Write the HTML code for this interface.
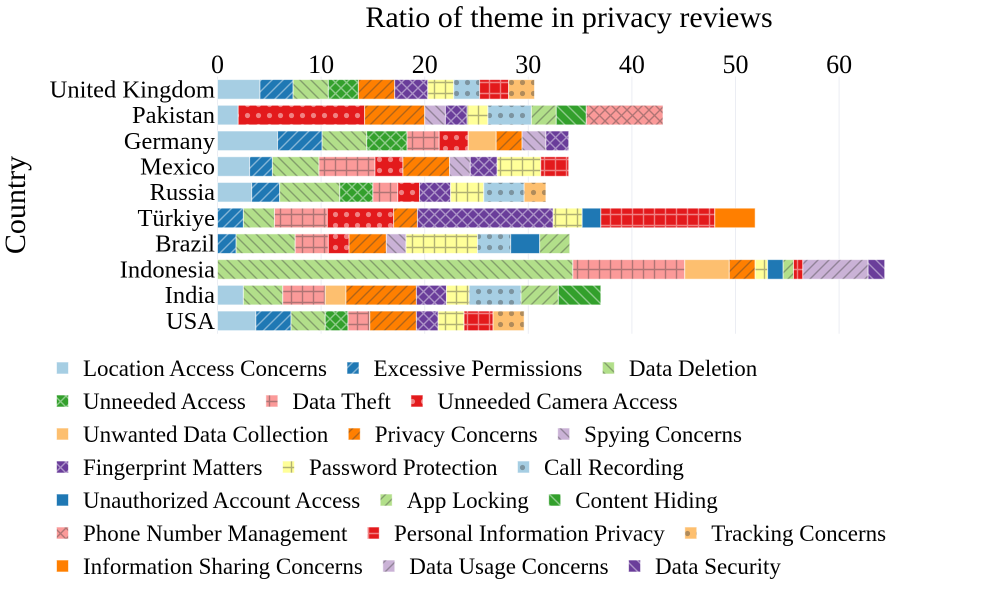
<!DOCTYPE html>
<html><head><meta charset="utf-8">
<style>
body{margin:0;background:#fff;font-family:"Liberation Serif",serif;}
#wrap{position:relative;width:1000px;height:600px;overflow:hidden;}
svg text{font-family:"Liberation Serif",serif;}
</style></head>
<body>
<div id="wrap">
<svg id="chart" width="1000" height="600" xmlns="http://www.w3.org/2000/svg">
<defs id="defs"></defs>
<text x="569" y="27" font-size="30" text-anchor="middle" fill="#000">Ratio of theme in privacy reviews</text>
<text transform="translate(25,205) rotate(-90)" font-size="30" text-anchor="middle" fill="#000">Country</text>
<g id="grid"></g><g id="bars"></g><g id="ticks"></g><g id="legend"></g>
</svg>
</div>
<script>
const countries = ["United Kingdom","Pakistan","Germany","Mexico","Russia","Türkiye","Brazil","Indonesia","India","USA"];
const themes = ["Location Access Concerns","Excessive Permissions","Data Deletion","Unneeded Access","Data Theft","Unneeded Camera Access","Unwanted Data Collection","Privacy Concerns","Spying Concerns","Fingerprint Matters","Password Protection","Call Recording","Unauthorized Account Access","App Locking","Content Hiding","Phone Number Management","Personal Information Privacy","Tracking Concerns","Information Sharing Concerns","Data Usage Concerns","Data Security"];
const xTicks = [0,10,20,30,40,50,60];
// values per country: [themeIndex, value]
const ukValues = [[0,4.1],[1,3.2],[2,3.4],[3,2.9],[7,3.5],[9,3.2],[10,2.5],[11,2.5],[16,2.8],[17,2.5]];
const pakistanValues = [[0,2.0],[5,12.2],[7,5.8],[8,2.0],[9,2.1],[10,2.0],[11,4.2],[13,2.4],[14,2.9],[15,7.4]];
const germanyValues = [[0,5.8],[1,4.3],[2,4.3],[3,3.9],[4,3.1],[5,2.8],[6,2.7],[7,2.5],[8,2.3],[9,2.2]];
const mexicoValues = [[0,3.1],[1,2.2],[2,4.5],[4,5.4],[5,2.7],[7,4.5],[8,2.0],[9,2.6],[10,4.2],[16,2.7]];
const russiaValues = [[0,3.3],[1,2.7],[2,5.8],[3,3.2],[4,2.4],[5,2.1],[9,3.0],[10,3.2],[11,3.9],[17,2.1]];
const turkiyeValues = [[1,2.5],[2,3.0],[4,5.1],[5,6.4],[7,2.3],[9,13.1],[10,2.8],[12,1.8],[16,11.0],[18,3.9]];
const brazilValues = [[1,1.8],[2,5.7],[4,3.2],[5,2.0],[7,3.6],[8,1.9],[10,6.9],[11,3.2],[12,2.8],[13,2.9]];
const indonesiaValues = [[2,34.3],[4,10.8],[6,4.3],[7,2.5],[10,1.2],[12,1.5],[13,1.0],[16,0.9],[19,6.3],[20,1.6]];
const indiaValues = [[0,2.5],[2,3.8],[4,4.1],[6,2.0],[7,6.8],[9,2.9],[10,2.2],[11,5.0],[13,3.6],[14,4.1]];
const usaValues = [[0,3.7],[1,3.4],[2,3.3],[3,2.2],[4,2.1],[7,4.5],[9,2.1],[10,2.5],[16,2.8],[17,3.0]];
const allValues = [ukValues,pakistanValues,germanyValues,mexicoValues,russiaValues,turkiyeValues,brazilValues,indonesiaValues,indiaValues,usaValues];

const colors = ["#a6cee3","#1f78b4","#b2df8a","#33a02c","#fb9a99","#e31a1c","#fdbf6f","#ff7f00","#cab2d6","#6a3d9a","#ffff99"];
const shapes = ["","/","\\","x","+","."];
const darkFills = ["#1f78b4","#33a02c","#e31a1c","#6a3d9a"];
const NS="http://www.w3.org/2000/svg";
const x0=217.5, pxPer=10.36, yTop=76.5, band=25.72, barH=19.6;
const xs=v=>x0+v*pxPer;
const yc=i=>yTop+band*(i+0.5);
function mk(tag,attrs,parent){const e=document.createElementNS(NS,tag);for(const k in attrs)e.setAttribute(k,attrs[k]);if(parent)parent.appendChild(e);return e;}
const defs=document.getElementById('defs');
function fillFor(t){
  const c=colors[t%11], s=shapes[t%6];
  if(!s) return c;
  const dark=darkFills.includes(c);
  const fg=dark?"rgba(255,255,255,0.45)":"rgba(60,60,60,0.4)";
  const id="p"+t, S=11;
  const p=mk('pattern',{id:id,width:S,height:S,patternUnits:"userSpaceOnUse"},defs);
  mk('rect',{width:S,height:S,fill:c},p);
  const sw=1.4;
  if(s=="/"){mk('path',{d:`M0,${S} L${S},0 M-2,2 L2,-2 M${S-2},${S+2} L${S+2},${S-2}`,stroke:fg,"stroke-width":sw},p);}
  else if(s=="\\"){mk('path',{d:`M0,0 L${S},${S} M${S-2},-2 L${S+2},2 M-2,${S-2} L2,${S+2}`,stroke:fg,"stroke-width":sw},p);}
  else if(s=="x"){mk('path',{d:`M0,0 L${S},${S} M0,${S} L${S},0`,stroke:fg,"stroke-width":sw},p);}
  else if(s=="+"){mk('path',{d:`M${S/2},0 L${S/2},${S} M0,${S/2} L${S},${S/2}`,stroke:fg,"stroke-width":sw},p);}
  else if(s=="."){mk('circle',{cx:S/2,cy:S/2,r:2.6,fill:fg},p);}
  return `url(#${id})`;
}
const fills=themes.map((_,i)=>fillFor(i));
const grid=document.getElementById('grid'), bars=document.getElementById('bars'), ticks=document.getElementById('ticks');
xTicks.forEach(v=>{
  const l=mk('line',{x1:xs(v),x2:xs(v),y1:yTop,y2:yTop+band*10,stroke:"#ebedf3","stroke-width":1},grid);
  
  
  const t=mk('text',{x:xs(v),y:73,"font-size":26,"text-anchor":"middle",fill:"#000"},ticks);
  t.textContent=v;
  
  
});
countries.forEach((c,i)=>{
  const t=mk('text',{x:215,y:yc(i)+8,"font-size":24.5,"text-anchor":"end",fill:"#000"},ticks);
  t.textContent=c;
  
  
  let cum=0;
  allValues[i].forEach(([ti,v])=>{
    const r=mk('rect',{x:xs(cum),y:yc(i)-barH/2,width:v*pxPer,height:barH,fill:fills[ti],stroke:"rgba(255,255,255,0.6)","stroke-width":1},bars);
    
    
    cum+=v;
  });
});
// legend
const legend=document.getElementById('legend');
const lrows=7, perRow=3;
for(let r=0;r<lrows;r++){
  let x=56.5; const y=368+r*33;
  for(let k=0;k<perRow;k++){
    const ti=r*perRow+k;
    const g=mk('g',{},legend);
    
    
    mk('rect',{x:x,y:y-6,width:12,height:12,fill:fills[ti],stroke:"rgba(255,255,255,0.6)"},g);
    const t=mk('text',{x:x+26.5,y:y+8,"font-size":23,fill:"#000"},g);
    t.textContent=themes[ti];
    const w=t.getComputedTextLength();
    x=x+26.5+w+20;
  }
}
</script>
</body></html>
